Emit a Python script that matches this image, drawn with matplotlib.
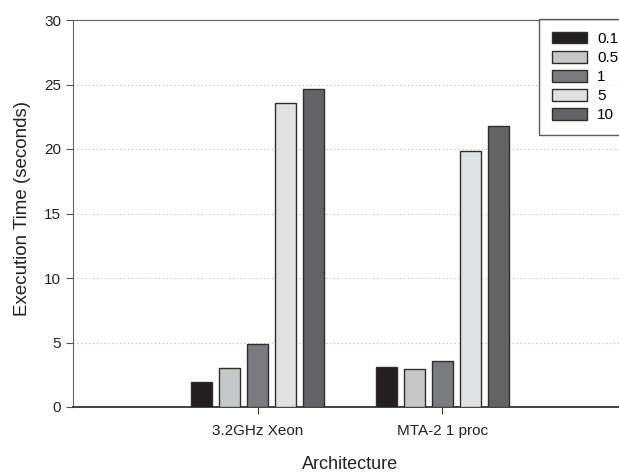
import numpy as np
import matplotlib
matplotlib.use("Agg")
import matplotlib.pyplot as plt

plt.rcParams["font.family"] = ["Liberation Sans", "DejaVu Sans"]

categories = ["3.2GHz Xeon", "MTA-2 1 proc"]
series_labels = ["0.1", "0.5", "1", "5", "10"]
values = {
    "0.1": [1.95, 3.12],
    "0.5": [3.00, 2.92],
    "1": [4.88, 3.59],
    "5": [23.55, 19.82],
    "10": [24.65, 21.76],
}
colors = ["#231f20", "#c6c7c8", "#7a7b7e", "#e0e1e2", "#646466"]
yticks = [0, 5, 10, 15, 20, 25, 30]

fig = plt.figure(figsize=(6.19, 4.72), dpi=100)
# axes runs slightly past the right edge of the figure, as in the original
ax = fig.add_axes([73 / 619, 1 - 407 / 472, (627 - 73) / 619, (407 - 20) / 472])

x = np.arange(len(categories))
pitch = 0.152
width = 0.114
for i, (lab, col) in enumerate(zip(series_labels, colors)):
    off = (i - 2) * pitch
    ax.bar(x + off, values[lab], width, color=col, edgecolor="#2e2e2e",
           linewidth=1.0, label=lab, zorder=3)

ax.set_xlim(-1.0, 2.0)
ax.set_ylim(0, 30)
ax.set_yticks(yticks)
ax.set_xticks(x)
ax.set_xticklabels(categories, fontsize=11, color="#222222")
ax.tick_params(axis="y", labelsize=11, labelcolor="#222222", direction="out",
               length=5, color="#555555")
ax.tick_params(axis="x", direction="out", length=5, color="#333333", pad=7.5)

for yv in yticks[1:-1]:
    ax.axhline(yv, color="#bbbbbb", linestyle=(0, (1, 2.5)), linewidth=0.8, zorder=1)

ax.spines["right"].set_visible(False)
ax.spines["top"].set_color("#666666")
ax.spines["left"].set_color("#666666")
ax.spines["bottom"].set_color("#222222")
ax.spines["bottom"].set_linewidth(1.2)

ax.set_ylabel("Execution Time (seconds)", fontsize=13.5, color="#222222")
ax.yaxis.set_label_coords(-0.076, 0.514)
ax.set_xlabel("Architecture", fontsize=13, color="#222222", labelpad=13)

leg = fig.legend(loc="upper left", bbox_to_anchor=(539 / 619, 1 - 19 / 472),
                 frameon=True, fancybox=False, fontsize=11, handlelength=2.3,
                 handleheight=0.78, labelspacing=0.33, borderpad=0.85,
                 handletextpad=0.65, borderaxespad=0)
leg.get_frame().set_edgecolor("#333333")
leg.get_frame().set_linewidth(1.0)

fig.savefig("out.png", dpi=100, facecolor="white")
